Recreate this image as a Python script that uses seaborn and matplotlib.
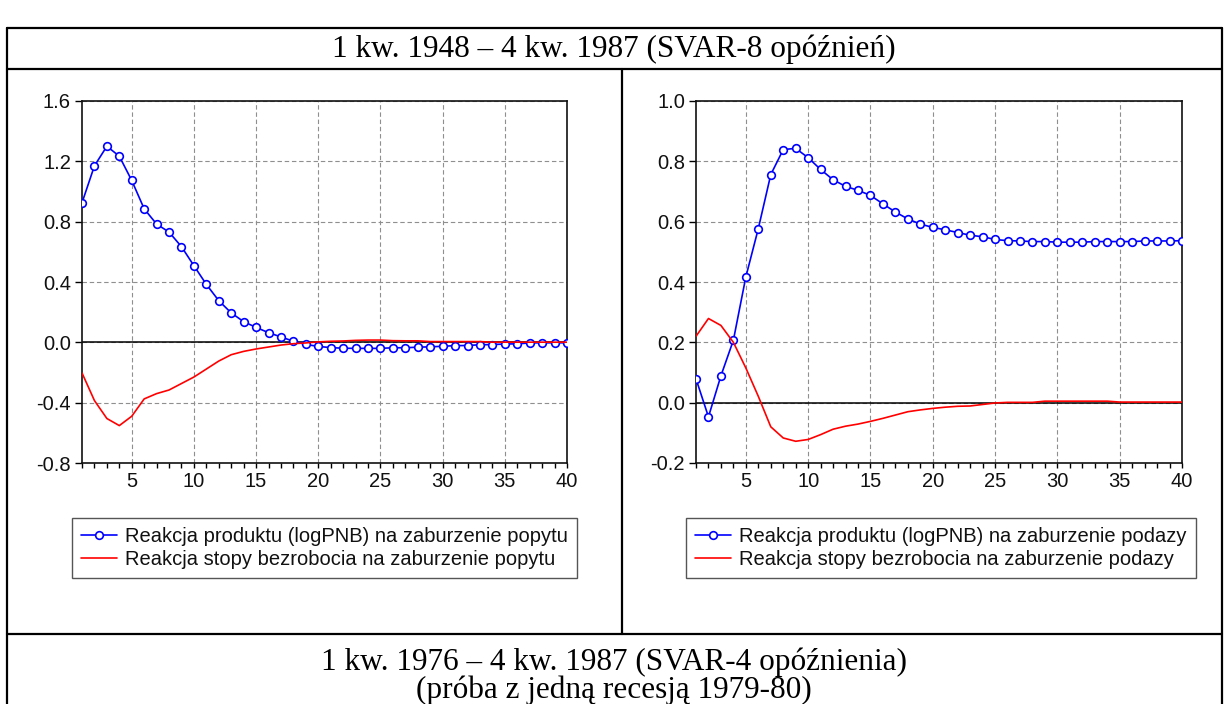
import matplotlib
matplotlib.use("Agg")
import matplotlib.pyplot as plt
import seaborn as sns
import pandas as pd
from matplotlib.lines import Line2D
from matplotlib.ticker import MultipleLocator, FormatStrFormatter

# ---------------- data ----------------
horizon = list(range(1, 41))

demand_output = [0.925, 1.17, 1.30, 1.234, 1.073, 0.885, 0.784, 0.731, 0.634, 0.508,
                 0.384, 0.276, 0.195, 0.137, 0.099, 0.064, 0.036, 0.007, -0.014, -0.027,
                 -0.035, -0.039, -0.040, -0.040, -0.040, -0.036, -0.036, -0.032, -0.030, -0.026,
                 -0.022, -0.021, -0.016, -0.015, -0.011, -0.010, -0.004, -0.003, -0.003, -0.003]

demand_unemp = [-0.203, -0.386, -0.505, -0.552, -0.490, -0.375, -0.340, -0.316, -0.273, -0.230,
                -0.177, -0.124, -0.082, -0.060, -0.044, -0.031, -0.018, -0.009, -0.004, 0.003,
                0.007, 0.009, 0.013, 0.015, 0.015, 0.011, 0.010, 0.010, 0.005, 0.005,
                0.005, 0.005, 0.005, 0.001, 0.001, 0.001, 0.001, 0.001, 0.001, 0.001]

supply_output = [0.079, -0.047, 0.089, 0.207, 0.417, 0.577, 0.756, 0.839, 0.843, 0.812,
                 0.773, 0.739, 0.717, 0.704, 0.687, 0.659, 0.632, 0.609, 0.592, 0.581,
                 0.573, 0.564, 0.555, 0.550, 0.541, 0.537, 0.536, 0.534, 0.534, 0.532,
                 0.532, 0.532, 0.534, 0.534, 0.534, 0.534, 0.536, 0.536, 0.536, 0.537]

supply_unemp = [0.220, 0.279, 0.256, 0.200, 0.115, 0.021, -0.080, -0.117, -0.128, -0.122,
                -0.106, -0.088, -0.078, -0.071, -0.062, -0.052, -0.041, -0.030, -0.024, -0.019,
                -0.015, -0.012, -0.011, -0.006, -0.001, 0.001, 0.001, 0.001, 0.005, 0.005,
                0.005, 0.005, 0.005, 0.005, 0.002, 0.002, 0.002, 0.002, 0.002, 0.002]

header_top = "1 kw. 1948 – 4 kw. 1987 (SVAR-8 opóźnień)"
header_bottom_1 = "1 kw. 1976 – 4 kw. 1987 (SVAR-4 opóźnienia)"
header_bottom_2 = "(próba z jedną recesją 1979-80)"

legend_left = ["Reakcja produktu (logPNB) na zaburzenie popytu",
               "Reakcja stopy bezrobocia na zaburzenie popytu"]
legend_right = ["Reakcja produktu (logPNB) na zaburzenie podazy",
                "Reakcja stopy bezrobocia na zaburzenie podazy"]

# ---------------- style ----------------
sns.set_theme(style="white")
plt.rcParams['font.family'] = ['Liberation Sans', 'DejaVu Sans']
plt.rcParams['axes.unicode_minus'] = False

W, H = 1225, 704
fig = plt.figure(figsize=(W / 100, H / 100), dpi=100)
fig.patch.set_facecolor("white")


def fx(px):
    return px / W


def fy(py):
    return 1 - py / H


panels = [
    dict(rect=(82, 101, 567, 463), ylim=(-0.8, 1.6), ystep=0.4,
         out=demand_output, un=demand_unemp, labels=legend_left),
    dict(rect=(696, 101, 1182, 463), ylim=(-0.2, 1.0), ystep=0.2,
         out=supply_output, un=supply_unemp, labels=legend_right),
]

FS = 14.5
for p in panels:
    x0, y0, x1, y1 = p["rect"]
    ax = fig.add_axes([fx(x0), fy(y1), (x1 - x0) / W, (y1 - y0) / H])
    df = pd.DataFrame({"h": horizon, "out": p["out"], "un": p["un"]})

    ax.axhline(0, color="black", lw=1.1, zorder=1.5)
    sns.lineplot(data=df, x="h", y="out", ax=ax, color="blue", lw=1.2,
                 marker="o", markersize=5.5, markerfacecolor="white",
                 markeredgecolor="blue", markeredgewidth=1.2,
                 label=p["labels"][0], zorder=3)
    sns.lineplot(data=df, x="h", y="un", ax=ax, color="red", lw=1.2,
                 label=p["labels"][1], zorder=4)

    ax.set_xlim(1, 40)
    ax.set_ylim(*p["ylim"])
    ax.xaxis.set_major_locator(MultipleLocator(5))
    ax.xaxis.set_minor_locator(MultipleLocator(1))
    ax.yaxis.set_major_locator(MultipleLocator(p["ystep"]))
    ax.yaxis.set_major_formatter(FormatStrFormatter("%.1f"))
    ax.set_xlabel("")
    ax.set_ylabel("")

    ax.grid(which="major", axis="both", color="#8f8f8f",
            linestyle=(0, (4, 2.5)), lw=0.8, zorder=0)
    ax.set_axisbelow(True)

    ax.tick_params(axis="x", which="both", bottom=True, direction="out",
                   length=3.5, width=1, color="black", labelsize=FS, pad=3,
                   labelcolor="#111111")
    ax.tick_params(axis="y", which="major", left=True, direction="out",
                   length=5, width=1, color="black", labelsize=FS, pad=3,
                   labelcolor="#111111")
    for s in ax.spines.values():
        s.set_color("#111111")
        s.set_linewidth(1.2)

    # legend placed beneath the plot
    leg_left_px = x0 - 10
    leg_top_px = 518
    bx = (leg_left_px - x0) / (x1 - x0)
    by = (y1 - leg_top_px) / (y1 - y0)
    leg = ax.legend(loc="upper left", bbox_to_anchor=(bx, by), frameon=True,
                    fancybox=False, shadow=False, framealpha=1,
                    edgecolor="#555555", fontsize=FS, handlelength=1.8,
                    handletextpad=0.4, labelspacing=0.2, borderpad=0.45,
                    borderaxespad=0)
    leg.get_frame().set_linewidth(1.0)
    for t in leg.get_texts():
        t.set_color("#111111")

# ---------------- table frame ----------------
LW = 1.6
frame_lines = [
    ((7, 1222), (28, 28)),
    ((7, 1222), (69, 69)),
    ((7, 1222), (634, 634)),
    ((7, 7), (28, 704)),
    ((1222, 1222), (28, 704)),
    ((621.5, 621.5), (69, 634)),
]
for xs, ys in frame_lines:
    fig.add_artist(Line2D([fx(xs[0]), fx(xs[1])], [fy(ys[0]), fy(ys[1])],
                          transform=fig.transFigure, color="black", lw=LW))

serif = ["Liberation Serif", "DejaVu Serif"]
fig.text(fx(614), fy(57), header_top, ha="center", va="baseline",
         family=serif, fontsize=22.5, color="black")
fig.text(fx(614), fy(670), header_bottom_1, ha="center", va="baseline",
         family=serif, fontsize=22.5, color="black")
fig.text(fx(614), fy(698), header_bottom_2, ha="center", va="baseline",
         family=serif, fontsize=22.5, color="black")

fig.savefig("out.png", dpi=100, facecolor="white")
